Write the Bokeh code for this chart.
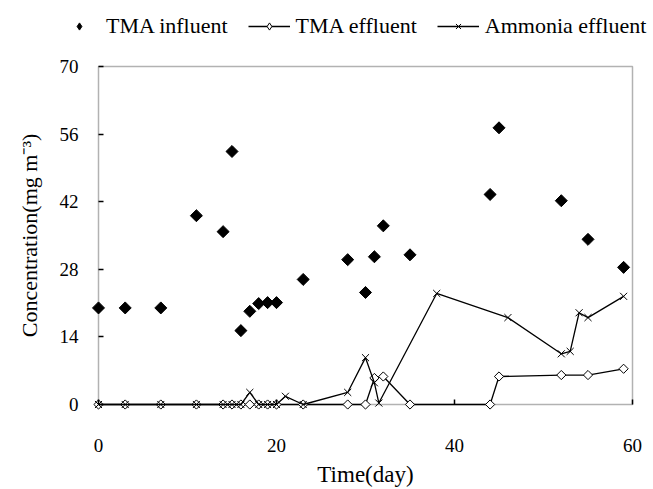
import math
from bokeh.plotting import figure
from bokeh.layouts import column
from bokeh.models import Legend, LegendItem, FixedTicker, Range1d, BoxAnnotation
from bokeh.embed import file_html
from bokeh.resources import INLINE

# TMA influent
inf_day = [0, 3, 7, 11, 14, 15, 16, 17, 18, 19, 20, 23, 28, 30, 31, 32, 35, 44, 45, 52, 55, 59]
inf_val = [20, 20, 20, 39.1, 35.8, 52.4, 15.3, 19.3, 20.9, 21.1, 21.1, 25.9, 30.0, 23.2, 30.6, 37.0, 31.0, 43.5, 57.3, 42.2, 34.2, 28.4]

# TMA effluent
eff_day = [0, 3, 7, 11, 14, 15, 16, 17, 18, 19, 20, 23, 28, 30, 31, 32, 35, 44, 45, 52, 55, 59]
eff_val = [0, 0, 0, 0, 0, 0, 0, 0, 0, 0, 0, 0, 0, 0, 5.5, 5.8, 0, 0, 5.8, 6.1, 6.1, 7.4]

# Ammonia effluent
amm_day = [0, 3, 7, 11, 14, 15, 16, 17, 18, 19, 20, 21, 23, 28, 30, 31, 31.5, 38, 46, 52, 53, 54, 55, 59]
amm_val = [0, 0, 0, 0, 0, 0, 0, 2.5, 0, 0, 0, 1.7, 0, 2.5, 9.7, 4.5, 0.3, 23.0, 18.0, 10.5, 11.0, 19.0, 18.0, 22.4]

x_ticks = [0, 20, 40, 60]
y_ticks = [0, 14, 28, 42, 56, 70]
X_MIN, X_MAX = 0, 60
Y_MIN, Y_MAX = 0, 70

FONT = "Liberation Serif"
ANG = math.pi / 4

# frame padded by a few pixels so markers on the axes are not clipped;
# the plot box itself is drawn at the real axis limits
PAD_PX = 8
px_x = 534 / (X_MAX - X_MIN)
px_y = 338 / (Y_MAX - Y_MIN)
xpad = PAD_PX / px_x
ypad = PAD_PX / px_y

# ---- main chart ----
p = figure(width=648, height=439, output_backend="svg", toolbar_location=None,
           x_range=Range1d(X_MIN - xpad, X_MAX + xpad),
           y_range=Range1d(Y_MIN - ypad, Y_MAX + ypad),
           min_border_left=90, min_border_right=8, min_border_top=8, min_border_bottom=77)
p.frame_align = False
p.grid.visible = False
p.outline_line_color = None
p.background_fill_color = "white"
p.border_fill_color = "white"

p.add_layout(BoxAnnotation(left=X_MIN, right=X_MAX, bottom=Y_MIN, top=Y_MAX,
                           fill_alpha=0, line_color="black",
                           line_width=1.5, level="underlay"))

for ax in (p.xaxis[0], p.yaxis[0]):
    ax.axis_line_color = None
    ax.major_tick_in = PAD_PX + 5
    ax.major_tick_out = -PAD_PX
    ax.minor_tick_line_color = None
    ax.major_tick_line_width = 1.5
    ax.major_tick_line_color = "black"
    ax.major_label_text_font = FONT
    ax.major_label_text_font_size = "19px"
    ax.major_label_text_color = "black"
    ax.axis_label_text_font = FONT
    ax.axis_label_text_font_style = "normal"
    ax.axis_label_text_color = "black"

p.xaxis.ticker = FixedTicker(ticks=x_ticks)
p.yaxis.ticker = FixedTicker(ticks=y_ticks)
p.xaxis.axis_label = "Time(day)"
p.yaxis.axis_label = "Concentration(mg m⁻³)"
p.xaxis.axis_label_text_font_size = "23px"
p.yaxis.axis_label_text_font_size = "22px"
p.xaxis.major_label_standoff = 26
p.yaxis.major_label_standoff = 12
p.xaxis.axis_label_standoff = 7
p.yaxis.axis_label_standoff = 15

p.scatter(inf_day, inf_val, marker="square", size=8.5, angle=ANG,
          fill_color="black", line_color="black")
p.line(eff_day, eff_val, line_color="black", line_width=1.3)
p.scatter(eff_day, eff_val, marker="square", size=6.5, angle=ANG,
          fill_color="white", line_color="black", line_width=1)
p.line(amm_day, amm_val, line_color="black", line_width=1.3)
p.scatter(amm_day, amm_val, marker="x", size=10, line_color="black", line_width=1)

# ---- legend strip above the chart (its series renderers are hidden) ----
lg = figure(width=648, height=50, output_backend="svg", toolbar_location=None,
            x_axis_type=None, y_axis_type=None,
            min_border_left=0, min_border_right=0, min_border_top=0, min_border_bottom=0)
lg.frame_align = False
lg.grid.visible = False
lg.outline_line_color = None
lg.background_fill_color = "white"
lg.border_fill_color = "white"
r_inf = lg.scatter(inf_day, inf_val, marker="diamond", size=16,
                   fill_color="black", line_color="black")
l_eff = lg.line(eff_day, eff_val, line_color="black", line_width=1.3)
m_eff = lg.scatter(eff_day, eff_val, marker="diamond", size=12,
                   fill_color="white", line_color="black", line_width=1)
l_amm = lg.line(amm_day, amm_val, line_color="black", line_width=1.3)
m_amm = lg.scatter(amm_day, amm_val, marker="x", size=10, line_color="black", line_width=1)
for r in (r_inf, l_eff, m_eff, l_amm, m_amm):
    r.visible = False

legend = Legend(items=[
    LegendItem(label="TMA influent", renderers=[r_inf]),
    LegendItem(label="TMA effluent", renderers=[l_eff, m_eff]),
    LegendItem(label="Ammonia effluent", renderers=[l_amm, m_amm]),
], orientation="horizontal", location=(58, 11),
    glyph_width=42, glyph_height=18, label_standoff=6, spacing=20,
    padding=2, margin=0, border_line_color=None, background_fill_alpha=0,
    inactive_fill_alpha=0, click_policy="none",
    label_text_font=FONT, label_text_font_size="22px", label_text_color="black")
lg.add_layout(legend, "center")

layout = column(lg, p, spacing=0)
open("out.html", "w").write(file_html(layout, INLINE))
